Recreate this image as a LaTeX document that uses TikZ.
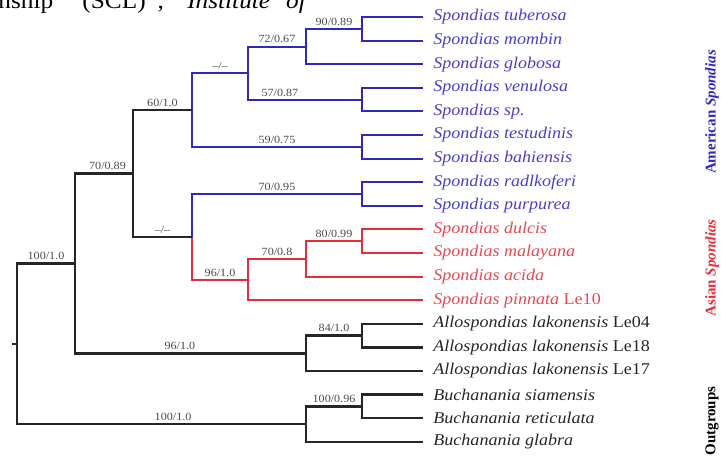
\documentclass[tikz,border=0pt]{standalone}
\usepackage{fontspec}
\setmainfont{Liberation Serif}[FakeStretch=1.1]
\newfontfamily\sidefont{Liberation Serif}
\definecolor{amer}{RGB}{48,40,190}
\definecolor{amertext}{RGB}{72,62,205}
\definecolor{asia}{RGB}{226,46,58}
\definecolor{asiatext}{RGB}{232,72,82}
\definecolor{supgray}{RGB}{75,75,75}

\begin{document}
\begin{tikzpicture}[x=0.5pt,y=-0.5pt]
        \tikzstyle{taxon}=[anchor=west,inner xsep=5pt,inner ysep=0pt,font=\fontsize{8.2}{9}\selectfont\itshape]
        \tikzstyle{branch}=[draw,line width=1.2pt,black!85]
        \tikzstyle{amerbranch}=[draw,line width=1pt,amer]
        \tikzstyle{asiabranch}=[draw,line width=1pt,asia]
        \tikzstyle{support}=[above,inner sep=1.2pt,text=supgray,font=\fontsize{5.5}{6}\selectfont]
        \tikzstyle{clade}=[rotate=90,inner sep=0pt,font=\sidefont\fontsize{7.5}{9}\selectfont\bfseries]
        \useasboundingbox (0,0) rectangle (721,457);
       \begin{scope}
         \clip (0,0) rectangle (721,457);
         \node [anchor=base west,inner sep=0pt,font=\fontsize{11.5}{13}\selectfont] (pagetext) at (-2,8) {nship”\hspace{9pt}(SCL)\hspace{6pt},\hspace{6pt}“\textit{Institute}\hspace{8pt}\textit{of}};
       \end{scope}

       \begin{scope}
         % taxa
         \node [taxon,text=amertext] (t1) at (423,17.0) {Spondias tuberosa};
         \node [taxon,text=amertext] (t2) at (423,40.6) {Spondias mombin};
         \node [taxon,text=amertext] (t3) at (423,64.2) {Spondias globosa};
         \node [taxon,text=amertext] (t4) at (423,87.8) {Spondias venulosa};
         \node [taxon,text=amertext] (t5) at (423,111.4) {Spondias sp.};
         \node [taxon,text=amertext] (t6) at (423,135.0) {Spondias testudinis};
         \node [taxon,text=amertext] (t7) at (423,158.6) {Spondias bahiensis};
         \node [taxon,text=amertext] (t8) at (423,182.2) {Spondias radlkoferi};
         \node [taxon,text=amertext] (t9) at (423,205.8) {Spondias purpurea};
         \node [taxon,text=asiatext] (t10) at (423,229.4) {Spondias dulcis};
         \node [taxon,text=asiatext] (t11) at (423,253.0) {Spondias malayana};
         \node [taxon,text=asiatext] (t12) at (423,276.6) {Spondias acida};
         \node [taxon,text=asiatext] (t13) at (423,300.2) {Spondias pinnata \textup{Le10}};
         \node [taxon,text=black!85] (t14) at (423,323.8) {Allospondias lakonensis \textup{Le04}};
         \node [taxon,text=black!85] (t15) at (423,347.4) {Allospondias lakonensis \textup{Le18}};
         \node [taxon,text=black!85] (t16) at (423,371.0) {Allospondias lakonensis \textup{Le17}};
         \node [taxon,text=black!85] (t17) at (423,394.6) {Buchanania siamensis};
         \node [taxon,text=black!85] (t18) at (423,418.2) {Buchanania reticulata};
         \node [taxon,text=black!85] (t19) at (423,441.8) {Buchanania glabra};

         % internal nodes
         \coordinate (nTM) at (362,28.8);
         \coordinate (nTMG) at (306,46.5);
         \coordinate (nVS) at (362,99.6);
         \coordinate (nA1) at (248,73.05);
         \coordinate (nTB) at (362,146.8);
         \coordinate (nAm) at (192,109.9);
         \coordinate (nRP) at (362,194.0);
         \coordinate (nDM) at (362,241.2);
         \coordinate (nDMA) at (306,258.9);
         \coordinate (nAs) at (248,279.55);
         \coordinate (nRPA) at (192,236.8);
         \coordinate (nSp) at (133,173.3);
         \coordinate (nL) at (362,335.6);
         \coordinate (nAll) at (306,353.3);
         \coordinate (nIn) at (75,263.3);
         \coordinate (nBSR) at (362,406.4);
         \coordinate (nBu) at (306,424.1);
         \coordinate (root) at (17,343.7);
         \coordinate (rootend) at (12,343.7);

         \path[amerbranch] (nTM) |- (t1.west);
         \path[amerbranch] (nTM) |- (t2.west);
         \path[amerbranch] (nTMG) |- node[support,pos=0.75] {90/0.89} (nTM);
         \path[amerbranch] (nTMG) |- (t3.west);
         \path[amerbranch] (nVS) |- (t4.west);
         \path[amerbranch] (nVS) |- (t5.west);
         \path[amerbranch] (nA1) |- node[support,pos=0.75] {72/0.67} (nTMG);
         \path[amerbranch] (nA1) |- node[support,pos=0.64] {57/0.87} (nVS);
         \path[amerbranch] (nTB) |- (t6.west);
         \path[amerbranch] (nTB) |- (t7.west);
         \path[amerbranch] (nAm) |- node[support,pos=0.75] {--/--} (nA1);
         \path[amerbranch] (nAm) |- node[support,pos=0.75] {59/0.75} (nTB);
         \path[amerbranch] (nRP) |- (t8.west);
         \path[amerbranch] (nRP) |- (t9.west);

         \path[asiabranch] (nDM) |- (t10.west);
         \path[asiabranch] (nDM) |- (t11.west);
         \path[asiabranch] (nDMA) |- node[support,pos=0.75] {80/0.99} (nDM);
         \path[asiabranch] (nDMA) |- (t12.west);
         \path[asiabranch] (nAs) |- node[support,pos=0.75] {70/0.8} (nDMA);
         \path[asiabranch] (nAs) |- (t13.west);
         \path[amerbranch] (nRPA) |- node[support,pos=0.75] {70/0.95} (nRP);
         \path[asiabranch] (nRPA) |- node[support,pos=0.75] {96/1.0} (nAs);

         \path[branch] (nSp) |- node[support,pos=0.75] {60/1.0} (nAm);
         \path[branch] (nSp) |- node[support,pos=0.75] {--/--} (nRPA);
         \path[branch] (nL) |- (t14.west);
         \path[branch] (nL) |- (t15.west);
         \path[branch] (nAll) |- node[support,pos=0.75] {84/1.0} (nL);
         \path[branch] (nAll) |- (t16.west);
         \path[branch] (nIn) |- node[support,pos=0.78] {70/0.89} (nSp);
         \path[branch] (nIn) |- node[support,pos=0.727] {96/1.0} (nAll);
         \path[branch] (nBSR) |- (t17.west);
         \path[branch] (nBSR) |- (t18.west);
         \path[branch] (nBu) |- node[support,pos=0.75] {100/0.96} (nBSR);
         \path[branch] (nBu) |- (t19.west);
         \path[branch] (root) |- node[support,pos=0.75] {100/1.0} (nIn);
         \path[branch] (root) |- node[support,pos=0.77] {100/1.0} (nBu);
         \path[branch] (rootend) -- (root);

         % clade labels
         \node [clade,text=amer] (amerlab) at (712,112) {American \textit{Spondias}};
         \node [clade,text=asia] (asialab) at (712,268) {Asian \textit{Spondias}};
         \node [clade,text=black] (outlab) at (712,421) {Outgroups};
        \end{scope}
\end{tikzpicture}
\end{document}
